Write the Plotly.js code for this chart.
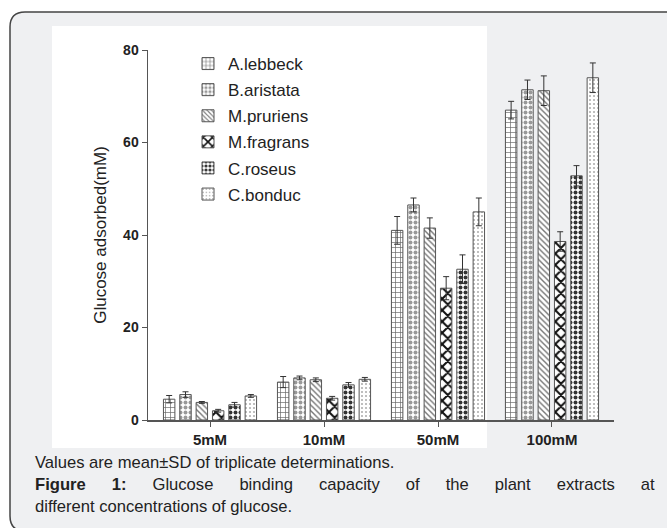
<!DOCTYPE html>
<html><head><meta charset="utf-8">
<script src="https://cdn.plot.ly/plotly-3.0.1.min.js"></script>
<style>html,body{margin:0;padding:0;background:#fff;}</style>
</head><body>
<div id="chart" style="width:667px;height:528px;"></div>
<script>
// ---- data ----
const categories = ['5mM', '10mM', '50mM', '100mM'];
const seriesNames = ['A.lebbeck', 'B.aristata', 'M.pruriens', 'M.fragrans', 'C.roseus', 'C.bonduc'];
const aLebbeck   = [4.5, 8.2, 41.0, 67.0];
const aLebbeckSD = [0.8, 1.2, 3.0, 1.9];
const bAristata   = [5.5, 9.1, 46.5, 71.4];
const bAristataSD = [0.6, 0.4, 1.5, 2.1];
const mPruriens   = [3.8, 8.7, 41.5, 71.2];
const mPruriensSD = [0.2, 0.4, 2.2, 3.2];
const mFragrans   = [2.0, 4.7, 28.5, 38.6];
const mFragransSD = [0.3, 0.4, 2.5, 2.1];
const cRoseus   = [3.3, 7.6, 32.6, 52.8];
const cRoseusSD = [0.5, 0.5, 3.1, 2.2];
const cBonduc   = [5.2, 8.8, 45.0, 74.0];
const cBonducSD = [0.3, 0.4, 3.0, 3.2];
const yTicks = [0, 20, 40, 60, 80];
const yTitle = 'Glucose adsorbed(mM)';
const captionLine1 = 'Values are mean±SD of triplicate determinations.';
const captionLine2 = '<span style="word-spacing:21.4px"><b>Figure 1:</b> Glucose binding capacity of the plant extracts at</span>';
const captionLine3 = 'different concentrations of glucose.';

const values = [aLebbeck, bAristata, mPruriens, mFragrans, cRoseus, cBonduc];
const errors = [aLebbeckSD, bAristataSD, mPruriensSD, mFragransSD, cRoseusSD, cBonducSD];

// ---- styles ----
const patterns = [
  {shape: '+', fgcolor: '#666666', bgcolor: '#ffffff', size: 5, solidity: 0.25},
  {shape: '.', fgcolor: '#999999', bgcolor: '#ffffff', size: 5, solidity: 0.5},
  {shape: '\\', fgcolor: '#777777', bgcolor: '#ffffff', size: 4, solidity: 0.35},
  {shape: 'x', fgcolor: '#111111', bgcolor: '#ffffff', size: 8, solidity: 0.45},
  {shape: '.', fgcolor: '#333333', bgcolor: '#ffffff', size: 5, solidity: 0.5},
  {shape: '.', fgcolor: '#aaaaaa', bgcolor: '#ffffff', size: 4, solidity: 0.2}
];
const FONT = 'Liberation Sans, Arial, sans-serif';

const traces = seriesNames.map((name, i) => ({
  type: 'bar',
  name: name,
  x: categories,
  y: values[i],
  legendgroup: 'g' + i,
  marker: {color: '#ffffff', line: {color: '#555555', width: 1}, pattern: patterns[i]},
  error_y: {type: 'data', array: errors[i], visible: true, color: '#333333', thickness: 1, width: 3}
}));

// pixel -> paper helpers (plot area: x 148..614, y 50..420)
const PL = 148, PR = 614, PT = 50, PB = 420;
const X = px => (px - PL) / (PR - PL);
const Y = py => (PB - py) / (PB - PT);

const bxL = X(10), bxR = X(690), bxT = Y(12), bxB = Y(531);
const rx = 15 / (PR - PL), ry = 15 / (PB - PT);
const boxPath = `M ${bxL},${bxB + ry} L ${bxL},${bxT - ry} Q ${bxL},${bxT} ${bxL + rx},${bxT} L ${bxR},${bxT} L ${bxR},${bxB} L ${bxL + rx},${bxB} Q ${bxL},${bxB} ${bxL},${bxB + ry} Z`;

const CAPFONT = {family: 'Liberation Sans Narrow, Arial Narrow, Liberation Sans, sans-serif', size: 16.6, color: '#222222'};

const layout = {
  width: 667, height: 528,
  margin: {l: PL, r: 667 - PR, t: PT, b: 528 - PB},
  paper_bgcolor: '#ffffff',
  plot_bgcolor: 'rgba(0,0,0,0)',
  barmode: 'group',
  bargap: 0.14,
  bargroupgap: 0.3,
  showlegend: true,
  legend: {
    x: X(188), y: Y(46), xanchor: 'left', yanchor: 'top',
    bgcolor: 'rgba(0,0,0,0)', borderwidth: 0,
    font: {family: FONT, size: 17, color: '#222222'},
    tracegroupgap: 1, traceorder: 'grouped'
  },
  xaxis: {
    type: 'category', range: [-0.544, 3.544],
    showline: true, linecolor: '#555555', linewidth: 1.5,
    ticks: 'outside', ticklen: 5, tickcolor: '#555555',
    showgrid: false, zeroline: false,
    tickfont: {family: FONT, size: 15, color: '#222222', weight: 'bold'}
  },
  yaxis: {
    range: [0, 80], tickvals: yTicks,
    showline: true, linecolor: '#555555', linewidth: 1.5,
    ticks: 'outside', ticklen: 5, tickcolor: '#555555',
    showgrid: false, zeroline: false,
    tickfont: {family: FONT, size: 14, color: '#222222', weight: 'bold'},
    title: {text: yTitle, standoff: 12, font: {family: FONT, size: 17, color: '#222222'}}
  },
  shapes: [
    {type: 'path', xref: 'paper', yref: 'paper', path: boxPath, fillcolor: '#eff0f2', line: {color: '#444444', width: 1.5}, layer: 'below'},
    {type: 'rect', xref: 'paper', yref: 'paper', x0: X(52), x1: X(487), y0: Y(448), y1: Y(26), fillcolor: '#ffffff', line: {width: 0}, layer: 'below'}
  ],
  annotations: [
    {xref: 'paper', yref: 'paper', x: X(33), y: Y(462), xanchor: 'left', yanchor: 'middle', showarrow: false, text: captionLine1, font: CAPFONT},
    {xref: 'paper', yref: 'paper', x: X(33), y: Y(484), xanchor: 'left', yanchor: 'middle', showarrow: false, text: captionLine2, font: CAPFONT},
    {xref: 'paper', yref: 'paper', x: X(33), y: Y(506), xanchor: 'left', yanchor: 'middle', showarrow: false, text: captionLine3, font: CAPFONT}
  ]
};

Plotly.newPlot('chart', traces, layout, {displayModeBar: false, staticPlot: true});
</script>
</body></html>
